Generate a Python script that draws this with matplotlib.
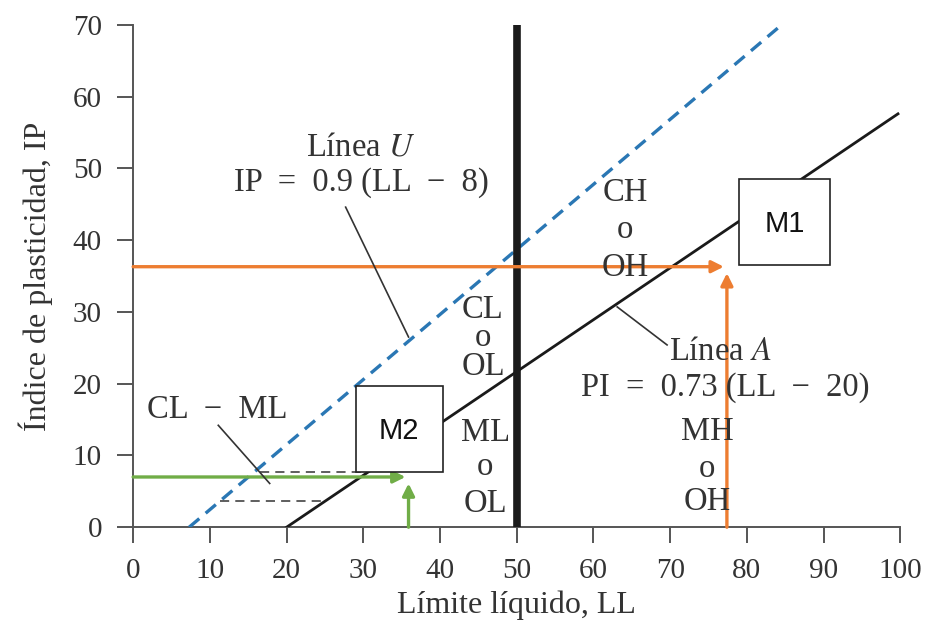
import matplotlib
matplotlib.use('Agg')
import matplotlib.pyplot as plt
from matplotlib.patches import Rectangle

# --- data ---
x_ticks = [0, 10, 20, 30, 40, 50, 60, 70, 80, 90, 100]
y_ticks = [0, 10, 20, 30, 40, 50, 60, 70]

u_line_ll = [7.3, 84.2]
u_line_ip = [0, 69.7]
a_line_ll = [20, 99.7]
a_line_ip = [0, 57.6]
ll_limit = 50

# CL-ML band (dashed)
band_upper_ll = [16.5, 30.5]
band_upper_ip = [7.7, 7.7]
band_lower_ll = [11.3, 25.0]
band_lower_ip = [3.7, 3.7]

# samples: (LL, IP)
m1_ll, m1_ip = 77.2, 36.3
m2_ll, m2_ip = 35.7, 7.0

# zone labels, one entry per text line
zone_text = ["CH", "o", "OH", "CL", "o", "OL", "ML", "o", "OL", "MH", "o", "OH"]
zone_x = [64.1, 64.1, 64.1, 45.6, 45.6, 45.6, 45.9, 45.9, 45.9, 74.8, 74.8, 74.8]
zone_y = [46.6, 41.4, 36.1, 30.3, 26.4, 22.3, 13.2, 8.4, 3.3, 13.3, 8.2, 3.6]

serif = ['Liberation Serif', 'DejaVu Serif']
txt = '#333333'
orange = '#ED7D31'
green = '#70AD47'
blue = '#2A77B4'

plt.rcParams['font.family'] = serif
plt.rcParams['mathtext.fontset'] = 'stix'

fig = plt.figure(figsize=(9.31, 6.21), dpi=100)
ax = fig.add_axes([0.143, 0.151, 0.824, 0.809])
ax.set_xlim(0, 100)
ax.set_ylim(0, 70)
ax.set_xticks(x_ticks)
ax.set_yticks(y_ticks)
ax.tick_params(direction='out', length=11.5, width=1.4, labelsize=21,
               colors='#555555', labelcolor=txt, pad=11)
for s in ['top', 'right']:
    ax.spines[s].set_visible(False)
for s in ['left', 'bottom']:
    ax.spines[s].set_color('#555555')
    ax.spines[s].set_linewidth(1.4)

ax.set_xlabel('Límite líquido, LL', fontsize=23, color=txt, labelpad=4)
ax.set_ylabel('Índice de plasticidad, IP', fontsize=23, color=txt, labelpad=14)

# classification lines
ax.plot(u_line_ll, u_line_ip, color=blue, lw=2.4, ls=(0, (4, 2.5)), zorder=3)
ax.plot(a_line_ll, a_line_ip, color='#1a1a1a', lw=2.0, zorder=3)
ax.plot([ll_limit, ll_limit], [0, 70], color='#1a1a1a', lw=5.5, zorder=3,
        solid_capstyle='butt')
ax.plot(band_upper_ll, band_upper_ip, color='#333333', lw=1.1, ls=(0, (6, 4)), zorder=3)
ax.plot(band_lower_ll, band_lower_ip, color='#333333', lw=1.1, ls=(0, (6, 4)), zorder=3)

# sample guide lines with arrows
for ll, ip, col in [(m1_ll, m1_ip, orange), (m2_ll, m2_ip, green)]:
    ax.annotate('', xy=(ll - 0.2, ip), xytext=(0, ip),
                arrowprops=dict(arrowstyle='-|>', color=col, lw=2.4,
                                mutation_scale=18, shrinkA=0, shrinkB=0),
                zorder=4)
    ax.annotate('', xy=(ll + 0.2, ip - 0.9), xytext=(ll + 0.2, 0),
                arrowprops=dict(arrowstyle='-|>', color=col, lw=2.4,
                                mutation_scale=18, shrinkA=0, shrinkB=0),
                zorder=4)

# sample boxes
ax.add_patch(Rectangle((79.0, 36.5), 11.9, 12.0, facecolor='white',
                       edgecolor='#222222', lw=1.2, zorder=5))
ax.text(85.0, 42.3, 'M1', fontsize=21, family='Liberation Sans', color='#111111',
        ha='center', va='center', zorder=6)
ax.add_patch(Rectangle((29.0, 7.7), 11.4, 12.0, facecolor='white',
                       edgecolor='#222222', lw=1.2, zorder=5))
ax.text(34.7, 13.4, 'M2', fontsize=21, family='Liberation Sans', color='#111111',
        ha='center', va='center', zorder=6)

# zone labels
for label, x, y in zip(zone_text, zone_x, zone_y):
    ax.text(x, y, label, fontsize=23.5, color=txt, ha='center', va='center', zorder=6)

# line labels and leaders (wide spacing around = and − as in the reference)
ax.text(29.7, 53.0, 'Línea $\\mathit{U}$', fontsize=23.5, color=txt,
        ha='center', va='center', zorder=6)
ax.text(29.7, 48.0, 'IP  =  0.9 (LL  −  8)', fontsize=23.5, color=txt,
        ha='center', va='center', zorder=6)
ax.plot([27.7, 35.9], [44.6, 26.5], color='#333333', lw=1.2, zorder=4)

ax.text(76.5, 24.4, 'Línea $\\mathit{A}$', fontsize=23.5, color=txt,
        ha='center', va='center', zorder=6)
ax.text(77.2, 19.4, 'PI  =  0.73 (LL  −  20)', fontsize=23.5, color=txt,
        ha='center', va='center', zorder=6)
ax.plot([63.1, 69.6], [30.7, 25.4], color='#333333', lw=1.2, zorder=4)

ax.text(11.0, 16.3, 'CL  −  ML', fontsize=23.5, color=txt,
        ha='center', va='center', zorder=6)
ax.plot([11.1, 17.8], [14.2, 6.1], color='#333333', lw=1.2, zorder=4)

fig.savefig('out.png', dpi=100)
